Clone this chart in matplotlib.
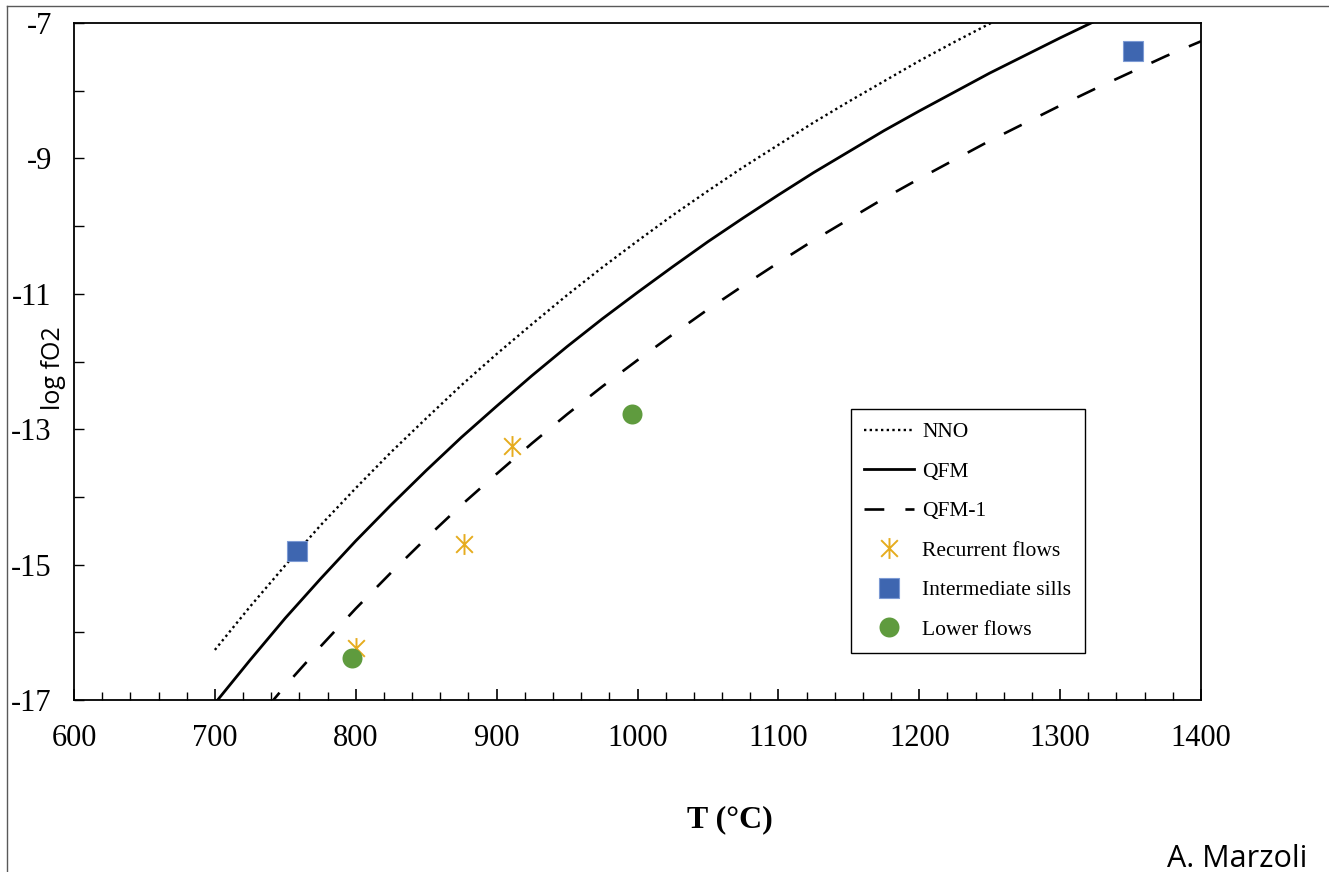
import matplotlib
matplotlib.use("Agg")
import matplotlib.pyplot as plt
from matplotlib.lines import Line2D
from matplotlib.path import Path
from matplotlib.ticker import MultipleLocator, FixedLocator

plt.rcParams['axes.unicode_minus'] = False
plt.rcParams['font.family'] = ['Liberation Serif', 'DejaVu Serif']

# buffer curves, every 25 °C
temp_c = [700, 725, 750, 775, 800, 825, 850, 875, 900, 925, 950, 975, 1000, 1025, 1050,
          1075, 1100, 1125, 1150, 1175, 1200, 1225, 1250, 1275, 1300, 1325, 1350, 1375, 1400]
nno = [-16.26, -15.62, -15.01, -14.42, -13.87, -13.34, -12.84, -12.35, -11.89, -11.45,
       -11.02, -10.61, -10.22, -9.84, -9.48, -9.13, -8.80, -8.47, -8.16, -7.86,
       -7.56, -7.28, -7.01, -6.74, -6.49, -6.24, -6.00, -5.77, -5.54]
qfm = [-17.05, -16.41, -15.79, -15.21, -14.65, -14.12, -13.61, -13.12, -12.66, -12.21,
       -11.78, -11.37, -10.98, -10.60, -10.23, -9.88, -9.54, -9.21, -8.90, -8.59,
       -8.30, -8.02, -7.74, -7.48, -7.22, -6.97, -6.73, -6.49, -6.27]
qfm_1 = [-18.05, -17.41, -16.79, -16.21, -15.65, -15.12, -14.61, -14.12, -13.66, -13.21,
         -12.78, -12.37, -11.98, -11.60, -11.23, -10.88, -10.54, -10.21, -9.90, -9.59,
         -9.30, -9.02, -8.74, -8.48, -8.22, -7.97, -7.73, -7.49, -7.27]

# samples
recurrent_t = [800, 877, 911]
recurrent_fo2 = [-16.23, -14.70, -13.25]
sills_t = [758, 1352]
sills_fo2 = [-14.80, -7.41]
lower_t = [797, 996]
lower_fo2 = [-16.38, -12.78]

W, H = 1329, 872
fig = plt.figure(figsize=(W / 100, H / 100), dpi=100)
ax = fig.add_axes([74 / W, 1 - 700 / H, (1201 - 74) / W, (700 - 23) / H])

ax.plot(temp_c, nno, color='black', lw=1.7, linestyle=(0, (1, 1.4)), label='NNO')
ax.plot(temp_c, qfm, color='black', lw=2.0, label='QFM')
ax.plot(temp_c, qfm_1, color='black', lw=1.9, linestyle=(0, (7.5, 8)), label='QFM-1')

# asterisk like excel: vertical bar plus an x
star = Path([(0, -1), (0, 1), (-0.8, -0.8), (0.8, 0.8), (-0.8, 0.8), (0.8, -0.8)],
            [Path.MOVETO, Path.LINETO, Path.MOVETO, Path.LINETO, Path.MOVETO, Path.LINETO])
ax.plot(recurrent_t, recurrent_fo2, linestyle='none', marker=star, ms=15, mew=1.4,
        color='#E6AC1E', label='Recurrent flows')
ax.plot(sills_t, sills_fo2, linestyle='none', marker='s', ms=14.4, mew=0.8,
        color='#3E66B0', markeredgecolor='#7C9AD4', label='Intermediate sills')
ax.plot(lower_t, lower_fo2, linestyle='none', marker='o', ms=14.4, mew=0,
        color='#5F9B3E', label='Lower flows')

ax.set_xlim(600, 1400)
ax.set_ylim(-17, -7)
ax.xaxis.set_major_locator(MultipleLocator(100))
ax.xaxis.set_minor_locator(MultipleLocator(20))
ax.yaxis.set_major_locator(FixedLocator([-17, -15, -13, -11, -9, -7]))
ax.yaxis.set_minor_locator(FixedLocator([-16, -14, -12, -10, -8]))
ax.tick_params(axis='x', which='major', direction='in', length=8, width=1.2, labelsize=22, pad=17)
ax.tick_params(axis='x', which='minor', direction='in', length=5.5, width=1.0)
ax.tick_params(axis='y', which='both', direction='in', length=7, width=1.0, labelsize=22, pad=16)
for s in ax.spines.values():
    s.set_linewidth(1.3)

leg = ax.legend(loc='upper left', bbox_to_anchor=(0.6894, 0.4298), borderaxespad=0,
                fontsize=15.5, handlelength=2.3, handletextpad=0.4, labelspacing=0.9,
                borderpad=0.62, fancybox=False, edgecolor='black', framealpha=1)
leg.get_frame().set_linewidth(1.0)

fig.text(729.5 / W, 1 - 827 / H, 'T (°C)', ha='center', va='baseline',
         fontsize=23, fontweight='bold')
fig.text(54 / W, 1 - 368 / H, 'log fO2', rotation=90, ha='center', va='center',
         fontsize=18, family=['Open Sans', 'DejaVu Sans'])
fig.text(1237 / W, 1 - 867 / H, 'A. Marzoli', ha='center', va='baseline',
         fontsize=22, family=['Open Sans', 'DejaVu Sans'])

# outer frame of the slide (left and top only visible)
fig.add_artist(Line2D([7 / W, 7 / W], [0, 1 - 6 / H], color='#595959', lw=1.0))
fig.add_artist(Line2D([7 / W, 1], [1 - 6 / H, 1 - 6 / H], color='#595959', lw=1.0))

fig.savefig('out.png', dpi=100)
